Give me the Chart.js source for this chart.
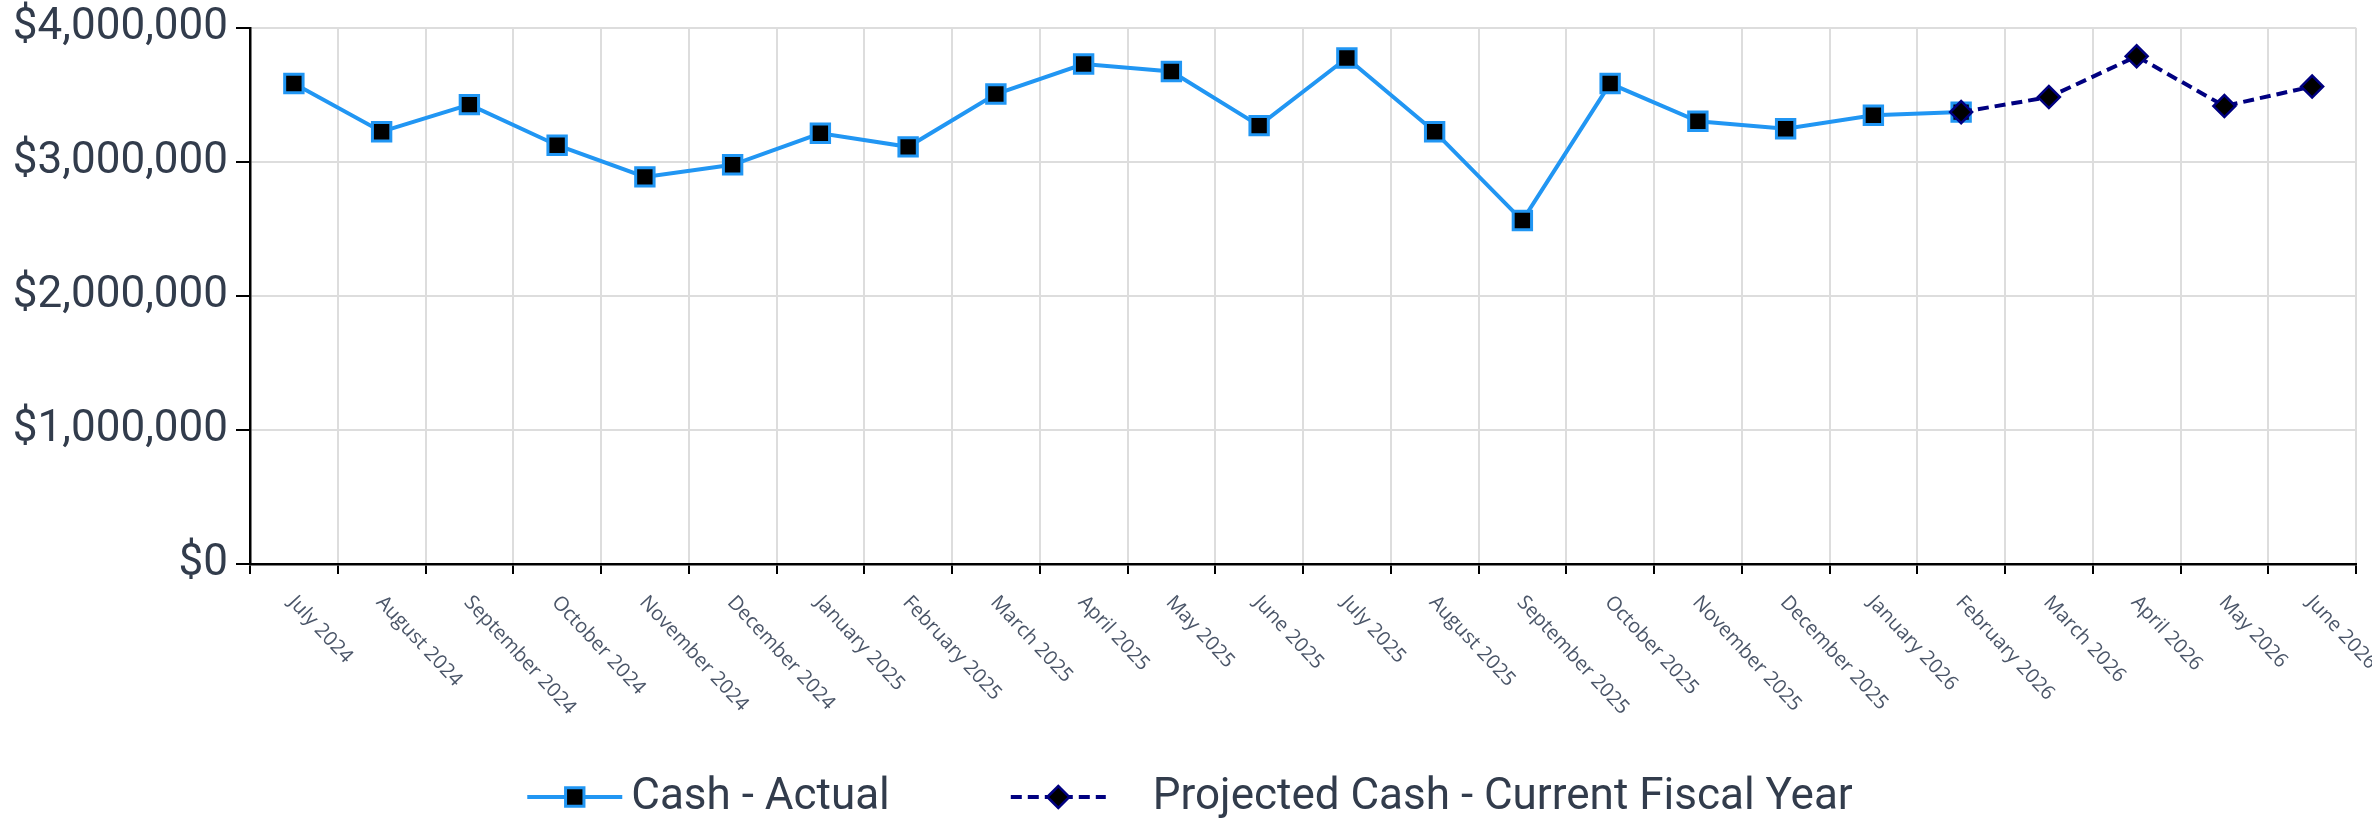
<!DOCTYPE html>
<html>
<head>
<meta charset="utf-8">
<script src="https://cdn.jsdelivr.net/npm/chart.js@4.4.1/dist/chart.umd.min.js"></script>
<style>
  html, body { margin: 0; padding: 0; background: #fff; }
  #wrap { width: 2372px; height: 822px; position: relative; }
</style>
</head>
<body>
<div id="wrap"><canvas id="cashChart"></canvas></div>
<script>
// ─── DATA ─────────────────────────────────────────────────────────────────────
const months = [
    'July 2024', 'August 2024', 'September 2024', 'October 2024', 'November 2024', 'December 2024',
    'January 2025', 'February 2025', 'March 2025', 'April 2025', 'May 2025', 'June 2025',
    'July 2025', 'August 2025', 'September 2025', 'October 2025', 'November 2025', 'December 2025',
    'January 2026', 'February 2026', 'March 2026', 'April 2026', 'May 2026', 'June 2026',
];

const cashActual = [
    3584000, 3225000, 3427000, 3124000, 2888000, 2978000,
    3213000, 3112000, 3506000, 3730000, 3674000, 3270000,
    3775000, 3225000, 2562000, 3584000, 3303000, 3247000,
    3348000, 3371000, null, null, null, null,
];

const cashProjected = [
    null, null, null, null, null, null,
    null, null, null, null, null, null,
    null, null, null, null, null, null,
    null, 3371000, 3483000, 3787000, 3416000, 3562000,
];

const yTicks = [0, 1000000, 2000000, 3000000, 4000000];

const seriesNames = ['Cash - Actual', 'Projected Cash - Current Fiscal Year'];

// ─── STYLE ────────────────────────────────────────────────────────────────────
const BLUE   = '#2196f3';
const NAVY   = '#000080';
const INK    = '#323c4c';
const LABEL  = '#4a5568';
const GRID   = '#dddddd';
const BIG    = '44px Roboto, "Liberation Sans", sans-serif';
const SMALL  = '20px "Open Sans", "Noto Sans", sans-serif';
const LABEL_ANGLE = 47 * Math.PI / 180;

// ─── PLUGIN: rotated x labels + legend with line samples ─────────────────────
const customText = {
    id: 'customText',
    afterDraw(chart) {
        const ctx = chart.ctx;
        const xs  = chart.scales.x;

        // x labels, rotated clockwise from each category centre
        ctx.save();
        ctx.font = SMALL;
        ctx.fillStyle = LABEL;
        ctx.textAlign = 'left';
        ctx.textBaseline = 'middle';
        months.forEach((m, i) => {
            const px = xs.getPixelForTick(i);
            ctx.save();
            ctx.translate(px - 2, xs.top + 35);
            ctx.rotate(LABEL_ANGLE);
            ctx.fillText(m, 0, 0);
            ctx.restore();
        });
        ctx.restore();

        // legend
        const ly = 797;
        ctx.save();
        ctx.font = BIG;
        ctx.textBaseline = 'middle';
        ctx.textAlign = 'left';
        const items = chart.data.datasets.map((ds) => ({
            ds,
            lineW: 95,
            gap: ds.label === seriesNames[0] ? 9 : 47,
            textW: ctx.measureText(ds.label).width,
        }));
        const between = 121;
        const total = items.reduce((s, it) => s + it.lineW + it.gap + it.textW, 0) + between;
        let x = (chart.width - total) / 2 + 4;

        items.forEach((it) => {
            const ds = it.ds;
            ctx.save();
            ctx.strokeStyle = ds.borderColor;
            ctx.lineWidth = ds.borderWidth;
            ctx.setLineDash(ds.borderDash || []);
            ctx.beginPath();
            ctx.moveTo(x, ly);
            ctx.lineTo(x + it.lineW, ly);
            ctx.stroke();
            ctx.setLineDash([]);
            ctx.fillStyle = ds.pointBackgroundColor;
            ctx.strokeStyle = ds.pointBorderColor;
            ctx.lineWidth = ds.pointBorderWidth;
            Chart.helpers.drawPoint(ctx, {
                pointStyle: ds.pointStyle,
                radius: ds.pointRadius,
                borderWidth: ds.pointBorderWidth,
                rotation: 0,
            }, x + it.lineW / 2, ly);
            ctx.restore();

            ctx.fillStyle = INK;
            ctx.fillText(ds.label, x + it.lineW + it.gap, ly + 1);
            x += it.lineW + it.gap + it.textW + between;
        });
        ctx.restore();
    },
};

// ─── CHART ────────────────────────────────────────────────────────────────────
new Chart(document.getElementById('cashChart').getContext('2d'), {
    type: 'line',
    data: {
        labels: months,
        datasets: [
            {
                label: seriesNames[0],
                data: cashActual,
                borderColor: BLUE,
                borderWidth: 4,
                pointStyle: 'rect',
                pointRadius: 13,
                pointBackgroundColor: '#000',
                pointBorderColor: BLUE,
                pointBorderWidth: 3,
                tension: 0,
                spanGaps: false,
                order: 1,
            },
            {
                label: seriesNames[1],
                data: cashProjected,
                borderColor: NAVY,
                borderWidth: 4,
                borderDash: [11, 6],
                pointStyle: 'rectRot',
                pointRadius: 11,
                pointBackgroundColor: '#000',
                pointBorderColor: NAVY,
                pointBorderWidth: 2.5,
                tension: 0,
                order: 0,
            },
        ],
    },
    options: {
        responsive: true,
        maintainAspectRatio: false,
        animation: false,
        layout: { padding: { top: 26, right: 15, left: 0, bottom: 0 } },
        plugins: {
            legend: { display: false },
            tooltip: { enabled: false },
        },
        scales: {
            x: {
                offset: true,
                grid: {
                    offset: true,
                    color: GRID,
                    lineWidth: 2,
                    tickColor: '#000',
                    tickLength: 10,
                },
                border: { color: '#000', width: 2.5 },
                ticks: { display: false },
                afterFit: (s) => { s.height = 258; },
            },
            y: {
                min: 0,
                max: 4000000,
                afterBuildTicks: (s) => { s.ticks = yTicks.map((v) => ({ value: v })); },
                grid: {
                    color: GRID,
                    lineWidth: 2,
                    tickColor: '#000',
                    tickLength: 14,
                },
                border: { color: '#000', width: 2.5 },
                ticks: {
                    color: INK,
                    font: { family: 'Roboto, "Liberation Sans", sans-serif', size: 44, lineHeight: 0.9 },
                    padding: 8,
                    callback: (v) => '$' + Number(v).toLocaleString('en-US'),
                },
                afterFit: (s) => { s.width = 250; },
            },
        },
    },
    plugins: [customText],
});
</script>
</body>
</html>
